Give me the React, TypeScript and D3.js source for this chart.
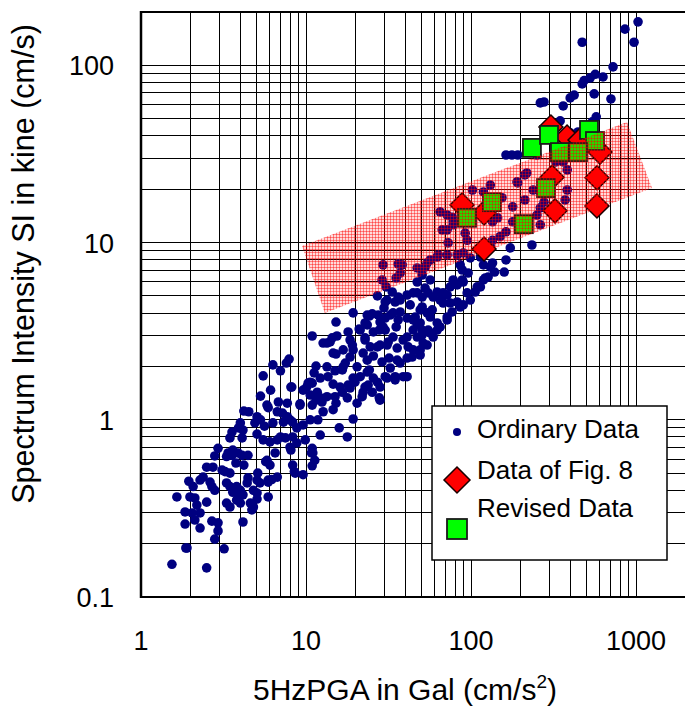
import React from 'react';
import * as d3 from 'd3';

// 5Hz PGA (Gal) vs. spectrum intensity SI (kine)
const ordinaryData: [number, number][] = [
  [7.9,2.2],[7.6,2.09],[6.3,2.04],[7.0,1.89],[5.5,1.77],[11.5,2.01],[11.2,1.84],[8.1,1.53],[6.1,1.47],[5.3,1.36],
  [10.1,1.53],[10.9,1.61],[10.6,1.38],[11.5,1.29],[10.9,1.21],[9.2,1.23],[7.7,1.24],[6.8,1.26],[5.8,1.21],[5.9,1.17],
  [4.2,1.12],[4.5,1.11],[5.05,1.04],[5.3,1.0],[6.7,1.11],[7.2,1.09],[7.7,1.04],[8.0,1.0],[8.3,0.97],[7.3,0.97],
  [6.3,0.96],[5.6,0.92],[4.9,0.96],[4.0,0.96],[3.9,0.9],[4.15,0.875],[3.56,0.853],[3.46,0.79],[4.1,0.79],[5.05,0.83],
  [5.5,0.77],[6.05,0.75],[6.7,0.77],[7.0,0.8],[7.5,0.79],[8.3,0.8],[8.8,0.9],[9.6,0.935],[10.6,1.0],[9.9,0.77],
  [8.8,0.74],[8.0,0.7],[10.9,0.69],[11.0,0.65],[11.3,0.59],[10.9,0.55],[9.6,0.49],[8.3,0.555],[8.5,0.51],[6.5,0.65],
  [5.8,0.59],[6.05,0.555],[6.7,0.475],[5.9,0.457],[5.9,0.367],[5.1,0.5],[5.05,0.457],[4.8,0.4],[4.6,0.339],[4.7,0.31],
  [4.15,0.265],[4.15,0.377],[4.0,0.4],[3.8,0.42],[3.6,0.39],[3.46,0.42],[3.3,0.44],[3.46,0.5],[3.23,0.51],[3.1,0.52],
  [3.3,0.62],[3.37,0.65],[3.6,0.675],[3.87,0.65],[4.1,0.63],[4.45,0.63],[4.2,0.555],[3.76,0.57],[2.93,0.69],[2.8,0.625],
  [2.73,0.54],[2.5,0.54],[2.38,0.475],[2.28,0.457],[2.07,0.42],[1.95,0.45],[2.69,0.42],[2.8,0.4],[2.5,0.343],[1.98,0.367],
  [2.12,0.362],[2.18,0.33],[1.85,0.302],[2.04,0.298],[2.28,0.298],[2.12,0.272],[1.85,0.258],[2.28,0.245],[2.69,0.268],[2.93,0.262],
  [2.93,0.236],[2.8,0.212],[1.9,0.189],[3.19,0.187],[1.54,0.153],[2.5,0.146],[1.65,0.367],[3.3,0.339],[3.46,0.322],[3.8,0.352],
  [3.87,0.386],[4.4,0.44],[4.45,0.47],[5.05,0.386],[5.26,0.44],[4.8,0.322],[2.62,0.445],[4.0,0.339],[5.05,0.357],[5.9,0.445],
  [6.2,0.46],[5.7,0.58],[8.1,0.675],[8.6,0.5],[10.8,0.65],[3.56,0.63],[1.87,0.189],
  [29.3,7.48],[36.2,7.57],[28.9,6.15],[35.2,6.31],[30.6,5.62],[27.1,5.0],[30.2,4.62],[34.7,4.62],[25.2,3.96],[24.2,3.85],
  [19.3,4.01],[15.2,3.56],[21.0,3.25],[23.5,3.43],[25.6,3.13],[29.3,3.34],[35.2,3.34],[30.2,3.75],[33.7,4.01],[18.0,3.13],
  [22.8,2.9],[10.9,2.97],[13.4,2.71],[14.4,2.9],[15.4,2.97],[19.1,2.64],[19.3,2.48],[22.2,2.38],[25.6,2.29],[28.1,2.64],
  [31.0,2.64],[35.7,2.54],[35.7,2.17],[28.9,2.12],[31.9,2.23],[15.2,2.35],[18.5,2.26],[17.3,2.09],[23.5,2.17],[16.8,1.99],
  [15.0,1.89],[20.4,1.99],[13.6,1.75],[14.6,1.59],[16.1,1.53],[18.0,1.57],[19.3,1.72],[21.3,1.75],[23.5,1.86],[25.6,1.72],
  [27.1,1.63],[30.2,1.75],[34.7,1.75],[23.8,1.57],[22.2,1.43],[27.8,1.33],[20.4,1.24],[17.8,1.33],[15.2,1.24],[14.6,1.14],
  [12.7,1.11],[19.3,1.01],[15.9,0.9],[17.8,0.8],[12.2,0.82],[11.8,1.0],[12.2,1.33],[11.7,1.43],[10.6,1.63],
  [38.3,7.48],[37.2,6.73],[52.7,7.28],[56.6,7.98],[62.4,8.29],[50.6,6.56],[47.2,5.99],[56.6,6.15],[55.0,5.2],[62.4,5.26],
  [47.2,5.2],[41.0,5.06],[37.2,4.74],[29.7,4.28],[32.4,3.9],[37.2,4.06],[42.8,4.45],[50.6,4.33],[54.2,4.01],[58.2,4.17],
  [45.9,3.8],[41.0,3.75],[31.5,2.75],[27.1,2.58],[33.7,2.93],[38.8,2.82],[41.6,2.58],[44.0,2.26],[49.2,2.48],[51.3,2.71],
  [56.6,3.09],[62.4,3.21],[50.6,3.21],[47.2,3.43],[41.0,2.23],[24.5,2.58],[22.8,2.82],[21.3,3.21],[18.5,2.82],[16.8,2.48],
  [14.6,2.38],[14.0,2.75],[12.7,2.71],[23.5,3.9],[27.4,3.9],[28.1,3.56],[27.8,3.21],[22.8,3.52],[41.0,1.75],[31.0,1.72],
  [24.2,1.91],[19.8,1.63],[16.6,1.91],[13.4,1.99],[12.2,1.72],[10.3,1.61],[9.6,1.47],[16.6,1.43],[18.5,1.51],[22.8,1.53],
  [25.2,1.43],[28.1,1.53],[21.9,1.35],[15.0,1.35],[13.4,1.35],[12.5,1.26],[9.2,1.21],[8.2,1.53],[28.1,1.29],
  [163,7.98],[159,6.82],[135,7.67],[139,6.82],[119,7.48],[122,6.31],[109,5.62],[106,5.26],[99,4.74],[89.7,4.45],
  [82.5,4.62],[76.9,4.06],[71.7,3.66],[65.0,3.34],[59.0,2.93],[54.2,2.64],[49.2,2.32],[44.6,2.48],[37.2,2.09],[38.8,1.75],
  [34.7,1.68],[32.4,1.96],[30.2,3.21],[31.0,4.74],[49.2,4.17],[56.6,3.8],[65.0,4.74],[71.7,5.06],[82.5,5.77],[89.7,5.99],
  [96.1,6.73],[86.0,7.48],[44.6,5.2],[49.2,3.52],[44.6,3.21],[41.0,2.93],[50.6,3.01],[36.2,3.66],[234,9.69],
  [173,9.33],[131,7.28],[119,6.15],[127,6.39],[114,5.62],[86.0,4.33],[94.8,5.2],[88.5,6.15],[88.5,7.0],[78.0,6.15],
  [74.8,5.62],[67.8,5.2],[59.0,4.93],[52.7,5.54],[50.6,4.93],[36.2,4.93],[33.3,5.26],[44.6,3.66],[67.8,4.56],[74.8,4.56],
  [71.7,3.8],[62.4,3.52],[55.0,3.21],[47.2,2.93],
  [65.0,14.9],[76.9,13.9],[78.0,12.6],[66.9,11.8],[71.7,11.8],[72.7,9.96],[92.2,11.3],[94.8,10.3],[89.7,8.74],[82.5,8.51],
  [71.7,8.51],[63.3,8.51],[54.2,7.67],[47.2,7.19],[102,19.8],[131,21.1],[154,17.9],[135,13.1],[145,13.8],[179,15.9],
  [192,21.7],[212,24.1],[135,10.3],[150,10.8],[163,11.5],[99,8.19],[114,8.29],[131,9.44],[78.0,13.1],[71.7,14.3],
  [1029,176],[857,160],[973,135],[472,135],[726,98],[631,86],[566,89],[528,85],[485,82],[472,78.5],
  [558,69],[705,64.6],[422,68],[399,65.5],[362,59],[277,62.1],[263,61.4],[347,48.6],[574,51.2],[543,48.0],
  [445,42.1],[399,41.6],[163,31.2],[177,31.2],[192,31.2],[251,31.2],[362,28.5],[383,25.7],[327,28.5],[218,24.7],
  [190,22.0],[238,19.8],[212,17.4],[119,19.3],[263,15.7],[337,15.7],[372,17.4],[383,19.8],[277,16.9],[251,14.3],
  [263,12.6],[179,13.1],
];

const fig8Data: [number, number][] = [
  [88.2,16.3],[120,14.7],[120,9.2],[305,44.9],[382,39.4],[458,37.9],[605,32.4],
  [310,23.4],[580,23.2],[323,15.1],[580,16.1],
];

const revisedData: [number, number][] = [
  [234,34.2],[297,40.5],[519,43.2],[564,37.4],[346,32.4],[445,32.4],
  [285,20.3],[134,16.9],[94.6,13.8],[209,12.7],
];

// Corners of the shaded range band (PGA, SI)
const bandCorners: [number, number][] = [[9.46,9.57],[882,47.9],[1250,20.3],[13.0,4.0]];

const xTickValues = [1, 10, 100, 1000];
const yTickValues = [0.1, 1, 10, 100];
const xTickLabels = ['1', '10', '100', '1000'];
const yTickLabels = ['0.1', '1', '10', '100'];
const legendLabels = ['Ordinary Data', 'Data of Fig. 8', 'Revised Data'];

const FONT = '"Liberation Sans", Arial, Helvetica, sans-serif';

export default function App() {
  const W = 685, H = 709;
  const left = 141, top = 12, bottom = 597;
  const x = d3.scaleLog().domain([1, 2000]).range([left, left + 165 * Math.log10(2000)]);
  const y = d3.scaleLog().domain([0.1, 200]).range([bottom, top]);
  const right = x(2000);

  const xGrid = x.ticks().filter(v => v > 1 && v < 2000);
  const yGrid = y.ticks().filter(v => v > 0.1 && v < 200);

  const bandPath = d3.line<[number, number]>().x(d => x(d[0])).y(d => y(d[1]))(bandCorners) + 'Z';
  const diamond = (s: number) => `M0,${-s}L${s},0L0,${s}L${-s},0Z`;

  return (
    <svg width={W} height={H} style={{ position: 'absolute', left: 0, top: 0, background: '#fff' }}
      fontFamily={FONT}>
      <defs>
        <pattern id="mesh" width="3" height="3" patternUnits="userSpaceOnUse">
          <rect width="3" height="3" fill="rgba(255,0,0,0.14)" />
          <rect width="3" height="1" fill="rgba(255,0,0,0.42)" />
          <rect width="1" height="3" fill="rgba(255,0,0,0.42)" />
        </pattern>
        <clipPath id="plot"><rect x={left} y={top} width={right - left} height={bottom - top} /></clipPath>
      </defs>
      <rect x={0} y={0} width={W} height={H} fill="#fff" />

      {/* grid */}
      <g stroke="#000" strokeWidth={1} shapeRendering="crispEdges">
        {xGrid.map(v => <line key={'gx' + v} x1={x(v)} x2={x(v)} y1={top} y2={bottom} />)}
        {yGrid.map(v => <line key={'gy' + v} x1={left} x2={right} y1={y(v)} y2={y(v)} />)}
      </g>

      <g clipPath="url(#plot)">
        {ordinaryData.map((d, i) => (
          <circle key={'o' + i} cx={x(d[0])} cy={y(d[1])} r={4.8} fill="#000080" />
        ))}
        {fig8Data.map((d, i) => (
          <path key={'f' + i} d={diamond(12)} transform={`translate(${x(d[0])},${y(d[1])})`}
            fill="#ff0000" stroke="#1a0000" strokeWidth={1.5} />
        ))}
        {revisedData.map((d, i) => (
          <rect key={'r' + i} x={x(d[0]) - 9} y={y(d[1]) - 9} width={18} height={18}
            fill="#00ff00" stroke="#1a1a1a" strokeWidth={1.8} />
        ))}
        <path d={bandPath} fill="url(#mesh)" />
      </g>

      {/* frame */}
      <g stroke="#000" fill="none">
        <line x1={left} x2={left} y1={top - 1} y2={bottom + 1} strokeWidth={2.5} />
        <line x1={left} x2={right} y1={bottom} y2={bottom} strokeWidth={2} />
        <line x1={left} x2={right} y1={top} y2={top} strokeWidth={2} />
      </g>

      {/* tick labels */}
      <g fontSize={27} fill="#000">
        {xTickValues.map((v, i) => (
          <text key={'tx' + v} x={x(v)} y={650} textAnchor="middle">{xTickLabels[i]}</text>
        ))}
        {yTickValues.map((v, i) => (
          <text key={'ty' + v} x={114} y={y(v) + 10} textAnchor="end">{yTickLabels[i]}</text>
        ))}
      </g>

      {/* axis titles */}
      <text x={405} y={700} fontSize={30} textAnchor="middle" fill="#000">
        5HzPGA in Gal (cm/s<tspan fontSize={19} dy={-12}>2</tspan><tspan dy={12}>)</tspan>
      </text>
      <text transform="translate(34,264) rotate(-90)" fontSize={30.5} textAnchor="middle" fill="#000">
        Spectrum Intensity SI in kine (cm/s)
      </text>

      {/* legend */}
      <g>
        <rect x={432} y={406} width={235} height={154} fill="#fff" stroke="#000" strokeWidth={1.5} />
        <circle cx={457} cy={432} r={4} fill="#000080" />
        <path d={diamond(13)} transform="translate(457,480)" fill="#ff0000" stroke="#1a0000" strokeWidth={1.5} />
        <rect x={447} y={519} width={20} height={20} fill="#00ff00" stroke="#1a1a1a" strokeWidth={1.8} />
        <g fontSize={26} fill="#000">
          <text x={477} y={438}>{legendLabels[0]}</text>
          <text x={477} y={479}>{legendLabels[1]}</text>
          <text x={477} y={517}>{legendLabels[2]}</text>
        </g>
      </g>
    </svg>
  );
}
